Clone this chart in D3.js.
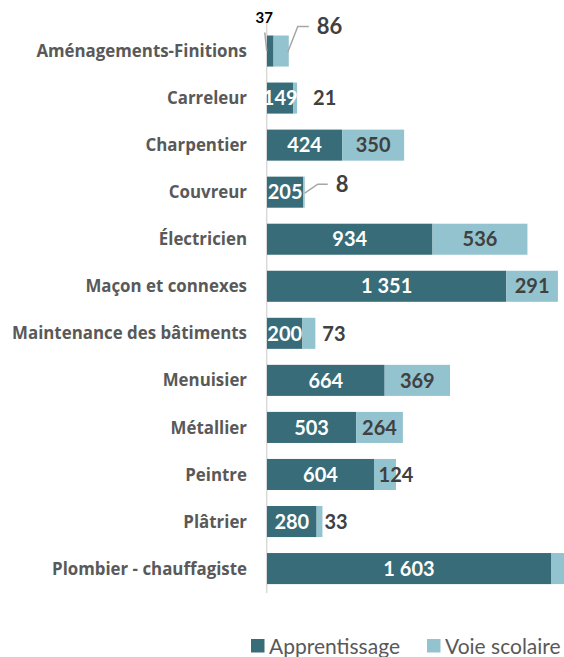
<!DOCTYPE html>
<html><head><meta charset="utf-8">
<script src="https://cdn.jsdelivr.net/npm/d3@7"></script>
<style>body{margin:0;background:#fff;} svg{display:block;}</style>
</head><body>
<svg id="c" width="564" height="657"></svg>
<script>
const categories = ["Aménagements-Finitions","Carreleur","Charpentier","Couvreur","Électricien","Maçon et connexes","Maintenance des bâtiments","Menuisier","Métallier","Peintre","Plâtrier","Plombier - chauffagiste"];
const apprentissage = [37,149,424,205,934,1351,200,664,503,604,280,1603];
const voieScolaire = [86,21,350,8,536,291,73,369,264,124,33,75];
const seriesNames = ["Apprentissage","Voie scolaire"];
const colors = ["#376c78","#93c3cf"];

// label placement modes (presentation only)
const apLabelMode = ["callout","center","center","center","center","center","center","center","center","center","center","center"];
const vsLabelMode = ["calloutBig","outside16","center","calloutSmall","center","center","outside7","center","center","end","outside2","none"];

const svg = d3.select("#c");
const font = "Lato, 'Open Sans', sans-serif";
const catFont = "'Open Sans', Lato, sans-serif";
const x = d3.scaleLinear().domain([0,1603]).range([267,551]);
const y = d3.scaleBand().domain(categories).range([27.5,592.1]).paddingInner(0.34).paddingOuter(0.17);
const bh = y.bandwidth();

// axis line
svg.append("line").attr("x1",266.7).attr("x2",266.7).attr("y1",22).attr("y2",593)
  .attr("stroke","#d9d9d9").attr("stroke-width",1.5);

// category labels
const yAxis = d3.axisLeft(y).tickSize(0).tickPadding(0);
const gA = svg.append("g").attr("transform","translate(247,0)").call(yAxis);
gA.select(".domain").remove();
const catTexts = gA.selectAll("text").attr("font-family",catFont).attr("font-weight","bold").attr("font-size",16).attr("fill","#595959").attr("dy","0.36em");
// fit font size so the longest label spans the same width as the reference
let maxW = 0; catTexts.each(function(){ maxW = Math.max(maxW, this.getComputedTextLength()); });
catTexts.attr("font-size", 16*235/maxW);

const rows = categories.map((c,i)=>({c, a:apprentissage[i], v:voieScolaire[i], i}));

// bars
svg.append("g").selectAll("rect").data(rows).join("rect")
  .attr("x",d=>x(0)).attr("y",d=>y(d.c)).attr("width",d=>x(d.a)-x(0)).attr("height",bh).attr("fill",colors[0]);
svg.append("g").selectAll("rect").data(rows).join("rect")
  .attr("x",d=>x(d.a)).attr("y",d=>y(d.c)).attr("width",d=>x(d.a+d.v)-x(d.a)).attr("height",bh).attr("fill",colors[1]);

const fmt = v => d3.format(",")(v).replace(/,/g," ");
const VS = 20;

const lines = svg.append("g").attr("fill","none").attr("stroke","#a6a6a6").attr("stroke-width",1.5);
const lg = svg.append("g").attr("font-family",font).attr("font-weight","bold");
rows.forEach(d=>{
  const top = y(d.c), cy = top+bh/2;
  if (apLabelMode[d.i]==="center") {
    lg.append("text").attr("x",(x(0)+x(d.a))/2).attr("y",cy).attr("dy","0.36em").attr("text-anchor","middle")
      .attr("font-size",VS).attr("fill","#fff").text(fmt(d.a));
  } else {
    const bx = (x(0)+x(d.a))/2;
    lg.append("text").attr("x",bx-6).attr("y",top-17.5).attr("dy","0.36em").attr("text-anchor","middle")
      .attr("font-size",15).attr("fill","#000").text(fmt(d.a));
    lines.append("polyline").attr("points",`${bx-5.5},${top-3} ${bx-3.5},${cy}`);
  }
  const vm = vsLabelMode[d.i];
  const ex = x(d.a+d.v);
  const addV = (tx, anchor, size) => lg.append("text").attr("x",tx).attr("y",cy).attr("dy","0.36em")
      .attr("text-anchor",anchor).attr("font-size",size||VS).attr("fill","#404040").text(fmt(d.v));
  if (vm==="center") addV((x(d.a)+ex)/2,"middle");
  else if (vm==="end") addV(ex,"middle");
  else if (vm.startsWith("outside")) addV(ex+(+vm.slice(7)),"start");
  else if (vm==="calloutBig") {
    const sx = ex-1, sy = cy+1, kx = sx+10, ky = top-9, ex2 = kx+11;
    lines.append("polyline").attr("points",`${sx},${sy} ${kx},${ky} ${ex2},${ky}`);
    lg.append("text").attr("x",ex2+8).attr("y",ky).attr("dy","0.36em").attr("font-size",22).attr("fill","#404040").text(fmt(d.v));
  } else if (vm==="calloutSmall") {
    const sx = ex, sy = cy+1, kx = sx+13, ky = cy-8, ex2 = kx+10;
    lines.append("polyline").attr("points",`${sx},${sy} ${kx},${ky} ${ex2},${ky}`);
    lg.append("text").attr("x",ex2+8).attr("y",ky).attr("dy","0.36em").attr("font-size",22).attr("fill","#404040").text(fmt(d.v));
  }
});

// legend
const leg = svg.append("g").attr("font-family",font);
const legX = [251,427];
seriesNames.forEach((n,i)=>{
  leg.append("rect").attr("x",legX[i]).attr("y",639).attr("width",13.5).attr("height",13.5).attr("fill",colors[i]);
  leg.append("text").attr("x",legX[i]+18).attr("y",646).attr("dy","0.36em").attr("font-size",21).attr("fill","#595959").text(n);
});
</script>
</body></html>
